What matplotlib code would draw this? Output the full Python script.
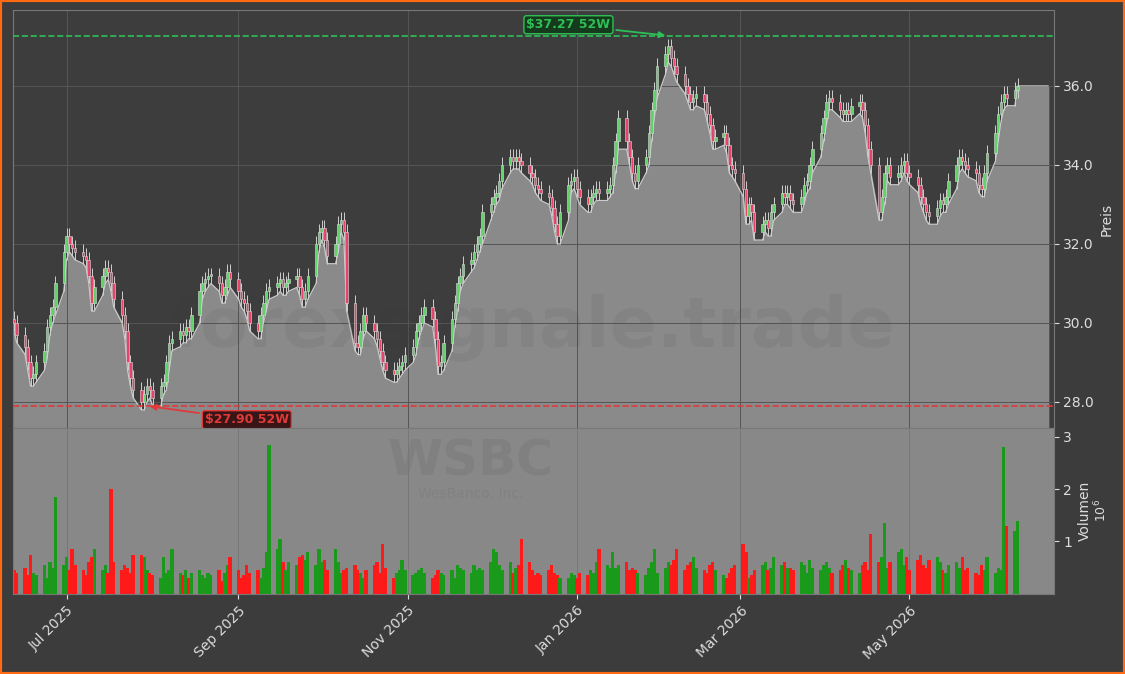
import matplotlib
matplotlib.use("Agg")
import matplotlib.pyplot as plt
import matplotlib.dates as mdates
import numpy as np
import pandas as pd

closes = [30.0,29.7,29.4,29.0,28.6,28.7,29.0,29.3,29.9,30.2,30.4,31.0,31.8,
 32.2,32.0,31.9,31.8,31.7,31.6,31.2,30.5,30.9,
 31.2,31.4,31.3,31.0,30.6,30.2,29.8,29.0,28.6,28.3,28.0,28.2,28.4,
 28.3,28.1,28.4,28.5,29.0,29.5,29.6,29.8,29.7,29.9,29.8,30.2,30.8,31.0,31.1,31.2,
 31.2,31.0,30.7,30.9,31.3,31.1,30.8,30.6,30.5,30.3,30.0,29.8,30.2,30.5,30.8,30.9,
 31.0,31.1,30.9,31.0,31.1,31.2,30.9,30.6,30.8,31.2,32.0,32.3,32.4,32.1,31.7,32.0,32.5,32.6,32.3,30.5,29.5,
 29.4,29.8,30.2,30.0,29.8,29.6,29.3,29.0,28.8,28.7,28.8,28.9,29.0,29.2,29.4,29.8,30.0,30.2,30.4,30.1,29.6,28.9,
 29.0,29.5,30.1,30.5,31.0,31.2,31.5,31.6,31.8,32.0,32.2,32.8,33.0,33.2,33.3,33.6,34.0,34.2,34.1,34.2,
 34.1,34.0,33.8,33.7,33.5,33.4,33.3,33.2,32.9,32.5,32.2,32.8,33.5,33.6,33.7,33.4,33.2,33.0,33.2,33.3,33.4,33.3,33.4,33.5,34.0,34.6,35.2,34.6,
 34.2,33.8,33.6,34.0,34.2,34.8,35.4,35.9,36.5,36.8,37.0,36.7,
 36.5,36.3,36.0,35.8,35.6,35.7,35.8,35.6,35.3,35.0,34.6,34.7,34.8,34.5,34.0,33.9,33.8,33.4,
 32.7,33.0,32.8,32.3,32.5,32.6,32.4,32.8,33.0,33.3,33.2,33.3,33.1,33.0,33.2,33.5,33.6,34.0,34.4,34.8,35.2,35.6,
 35.7,35.6,35.4,35.3,35.4,35.3,35.5,35.6,35.4,35.0,34.4,34.0,
 32.8,33.2,33.8,34.0,33.7,33.8,34.0,34.1,33.8,33.7,33.5,33.2,33.0,32.8,32.7,32.9,
 33.1,33.0,33.2,33.6,34.0,34.2,34.1,34.0,33.9,33.8,33.5,33.4,33.8,34.3,34.8,35.3,35.6,35.8,35.7,35.9,36.0]

volumes = [0.45,0.40,0.50,0.35,0.75,0.40,0.35,0.55,0.30,0.60,0.50,1.85,0.55,0.70,0.45,0.85,0.55,0.45,0.35,0.60,
 0.70,0.85,0.45,0.55,0.40,2.00,0.60,0.45,0.55,0.50,0.40,0.75,0.75,0.70,0.45,0.40,0.35,0.30,0.70,0.40,
 0.45,0.85,0.40,0.35,0.45,0.30,0.40,0.45,0.35,0.30,0.40,0.35,0.45,0.25,0.40,0.55,0.70,0.45,0.30,0.35,
 0.55,0.40,0.45,0.30,0.50,0.80,2.85,0.85,1.05,0.60,0.45,0.60,0.55,0.70,0.75,0.65,0.80,0.55,0.85,0.60,
 0.65,0.45,0.85,0.60,0.40,0.45,0.50,0.55,0.45,0.40,0.30,0.45,0.55,0.60,0.40,0.95,0.50,0.30,0.40,0.45,
 0.65,0.45,0.35,0.40,0.45,0.50,0.40,0.30,0.35,0.45,0.40,0.35,0.45,0.30,0.55,0.50,0.45,0.40,0.55,0.45,
 0.50,0.45,0.60,0.85,0.80,0.55,0.45,0.60,0.40,0.50,0.55,1.05,0.60,0.45,0.35,0.40,0.35,0.45,0.55,0.40,
 0.35,0.30,0.30,0.40,0.35,0.30,0.40,0.35,0.45,0.40,0.60,0.85,0.55,0.50,0.80,0.50,0.55,0.60,0.45,0.50,
 0.45,0.40,0.35,0.50,0.60,0.85,0.40,0.50,0.60,0.55,0.65,0.85,0.45,0.55,0.60,0.70,0.50,0.45,0.40,0.55,
 0.60,0.45,0.35,0.30,0.40,0.50,0.55,0.95,0.80,0.30,0.35,0.45,0.55,0.60,0.45,0.50,0.70,0.55,0.60,0.50,
 0.50,0.45,0.60,0.55,0.40,0.65,0.50,0.45,0.55,0.60,0.50,0.40,0.45,0.55,0.65,0.50,0.45,0.40,0.55,0.60,
 0.45,1.15,0.60,0.70,1.35,0.50,0.60,0.80,0.85,0.55,0.70,0.45,0.65,0.75,0.55,0.50,0.65,0.70,0.60,0.45,
 0.40,0.55,0.60,0.50,0.70,0.45,0.50,0.40,0.35,0.55,0.45,0.70,0.40,0.50,0.45,2.80,1.30,1.20,1.40]

dates = pd.bdate_range("2025-06-12", periods=len(closes))
opens = [closes[0] + 0.1] + closes[:-1]
x = mdates.date2num(dates)
highs = [max(o, c) + 0.2 for o, c in zip(opens, closes)]
lows = [min(o, c) - 0.2 for o, c in zip(opens, closes)]

BG = "#3c3c3c"
fig = plt.figure(figsize=(11.25, 6.74), dpi=100, facecolor=BG)
fig.patches.append(plt.Rectangle((0, 0), 1, 1, transform=fig.transFigure,
                                 fill=False, edgecolor="#ff6a13", linewidth=3))
ax = fig.add_axes([0.0116, 0.365, 0.925, 0.62], facecolor="#3d3d3d")
axv = fig.add_axes([0.0116, 0.119, 0.925, 0.246], facecolor="#888888", sharex=ax)

xlim = (x[0] - 0.3, x[0] + 375)
fx = np.append(x, xlim[1] - 2)
fl = np.append(lows[:-1], [closes[-1], closes[-1]])
ax.fill_between(fx, fl, 27.0, color="#8a8a8a", zorder=1)
ax.plot(fx, fl, color="#cccccc", lw=0.8, zorder=2)

for xi, o, h, l, c in zip(x, opens, highs, lows, closes):
    col = "#5fd36a" if c >= o else "#e8436a"
    ax.vlines(xi, l, h, color="#cfcfcf", lw=0.7, zorder=3)
    ax.bar(xi, max(abs(c - o), 0.03), bottom=min(o, c), width=0.9,
           facecolor=col, edgecolor="#dddddd", lw=0.4, zorder=4)

ax.axhline(37.27, color="#2fbf57", ls="--", lw=1.2, zorder=5)
ax.axhline(27.90, color="#e03a3a", ls="--", lw=1.2, zorder=5)
imax = int(np.argmax(closes)); imin = int(np.argmin(closes))
ax.annotate("$37.27 52W", xy=(x[imax], 37.27), xytext=(x[imax] - 36, 37.55),
            color="#2fbf57", fontsize=9, fontweight="bold", ha="center", va="center",
            bbox=dict(boxstyle="round,pad=0.2", fc="#153a1c", ec="#2fbf57"),
            arrowprops=dict(arrowstyle="-|>", color="#2fbf57", lw=1.3), zorder=6)
ax.annotate("$27.90 52W", xy=(x[imin] + 2, 27.90), xytext=(x[imin] + 38, 27.55),
            color="#e03a3a", fontsize=9, fontweight="bold", ha="center", va="center",
            bbox=dict(boxstyle="round,pad=0.2", fc="#3a1515", ec="#e03a3a"),
            arrowprops=dict(arrowstyle="-|>", color="#e03a3a", lw=1.3), zorder=6)

ax.text(0.5, 0.24, "forexsignale.trade", transform=ax.transAxes, fontsize=50,
        fontweight="bold", color="#303030", alpha=0.07, ha="center", va="center", zorder=2)
axv.text(0.44, 0.8, "WSBC", transform=axv.transAxes, fontsize=36, fontweight="bold",
         color="#808080", ha="center", va="center", zorder=0)
axv.text(0.44, 0.6, "WesBanco, Inc.", transform=axv.transAxes, fontsize=10,
         color="#818181", ha="center", va="center", zorder=0)

ax.set_ylim(27.34, 37.92)
ax.set_xlim(*xlim)
ax.yaxis.tick_right(); ax.yaxis.set_label_position("right")
ax.set_yticks([28, 30, 32, 34, 36])
ax.set_yticklabels(["28.0", "30.0", "32.0", "34.0", "36.0"])
ax.set_ylabel("Preis", color="#dddddd")
ax.grid(True, color="#555555", lw=0.7)
ax.tick_params(colors="#dddddd", labelbottom=False)
for s in ax.spines.values():
    s.set_color("#777777")

vcol = ["#1a9a1a" if c >= o else "#ff1a1a" for o, c in zip(opens, closes)]
axv.bar(x, np.array(volumes) * 1e6, width=1.2, color=vcol, zorder=2)
axv.set_ylim(0, 3.17e6)
axv.set_yticks([1e6, 2e6, 3e6])
axv.yaxis.tick_right(); axv.yaxis.set_label_position("right")
axv.set_ylabel("Volumen", color="#dddddd")
axv.grid(True, axis="x", color="#777777", lw=0.7)
axv.tick_params(colors="#dddddd")
axv.yaxis.get_offset_text().set_visible(False)
axv.text(1.045, 0.5, r"$10^6$", transform=axv.transAxes, color="#dddddd",
         rotation=90, va="center", ha="center", fontsize=9)
axv.set_yticklabels(["1", "2", "3"])
axv.xaxis.set_major_locator(mdates.MonthLocator(bymonth=[1, 3, 5, 7, 9, 11]))
axv.xaxis.set_major_formatter(mdates.DateFormatter("%b %Y"))
plt.setp(axv.get_xticklabels(), rotation=45, ha="right", rotation_mode="anchor")
for s in axv.spines.values():
    s.set_color("#777777")

fig.savefig("out.png", dpi=100, facecolor=BG)
